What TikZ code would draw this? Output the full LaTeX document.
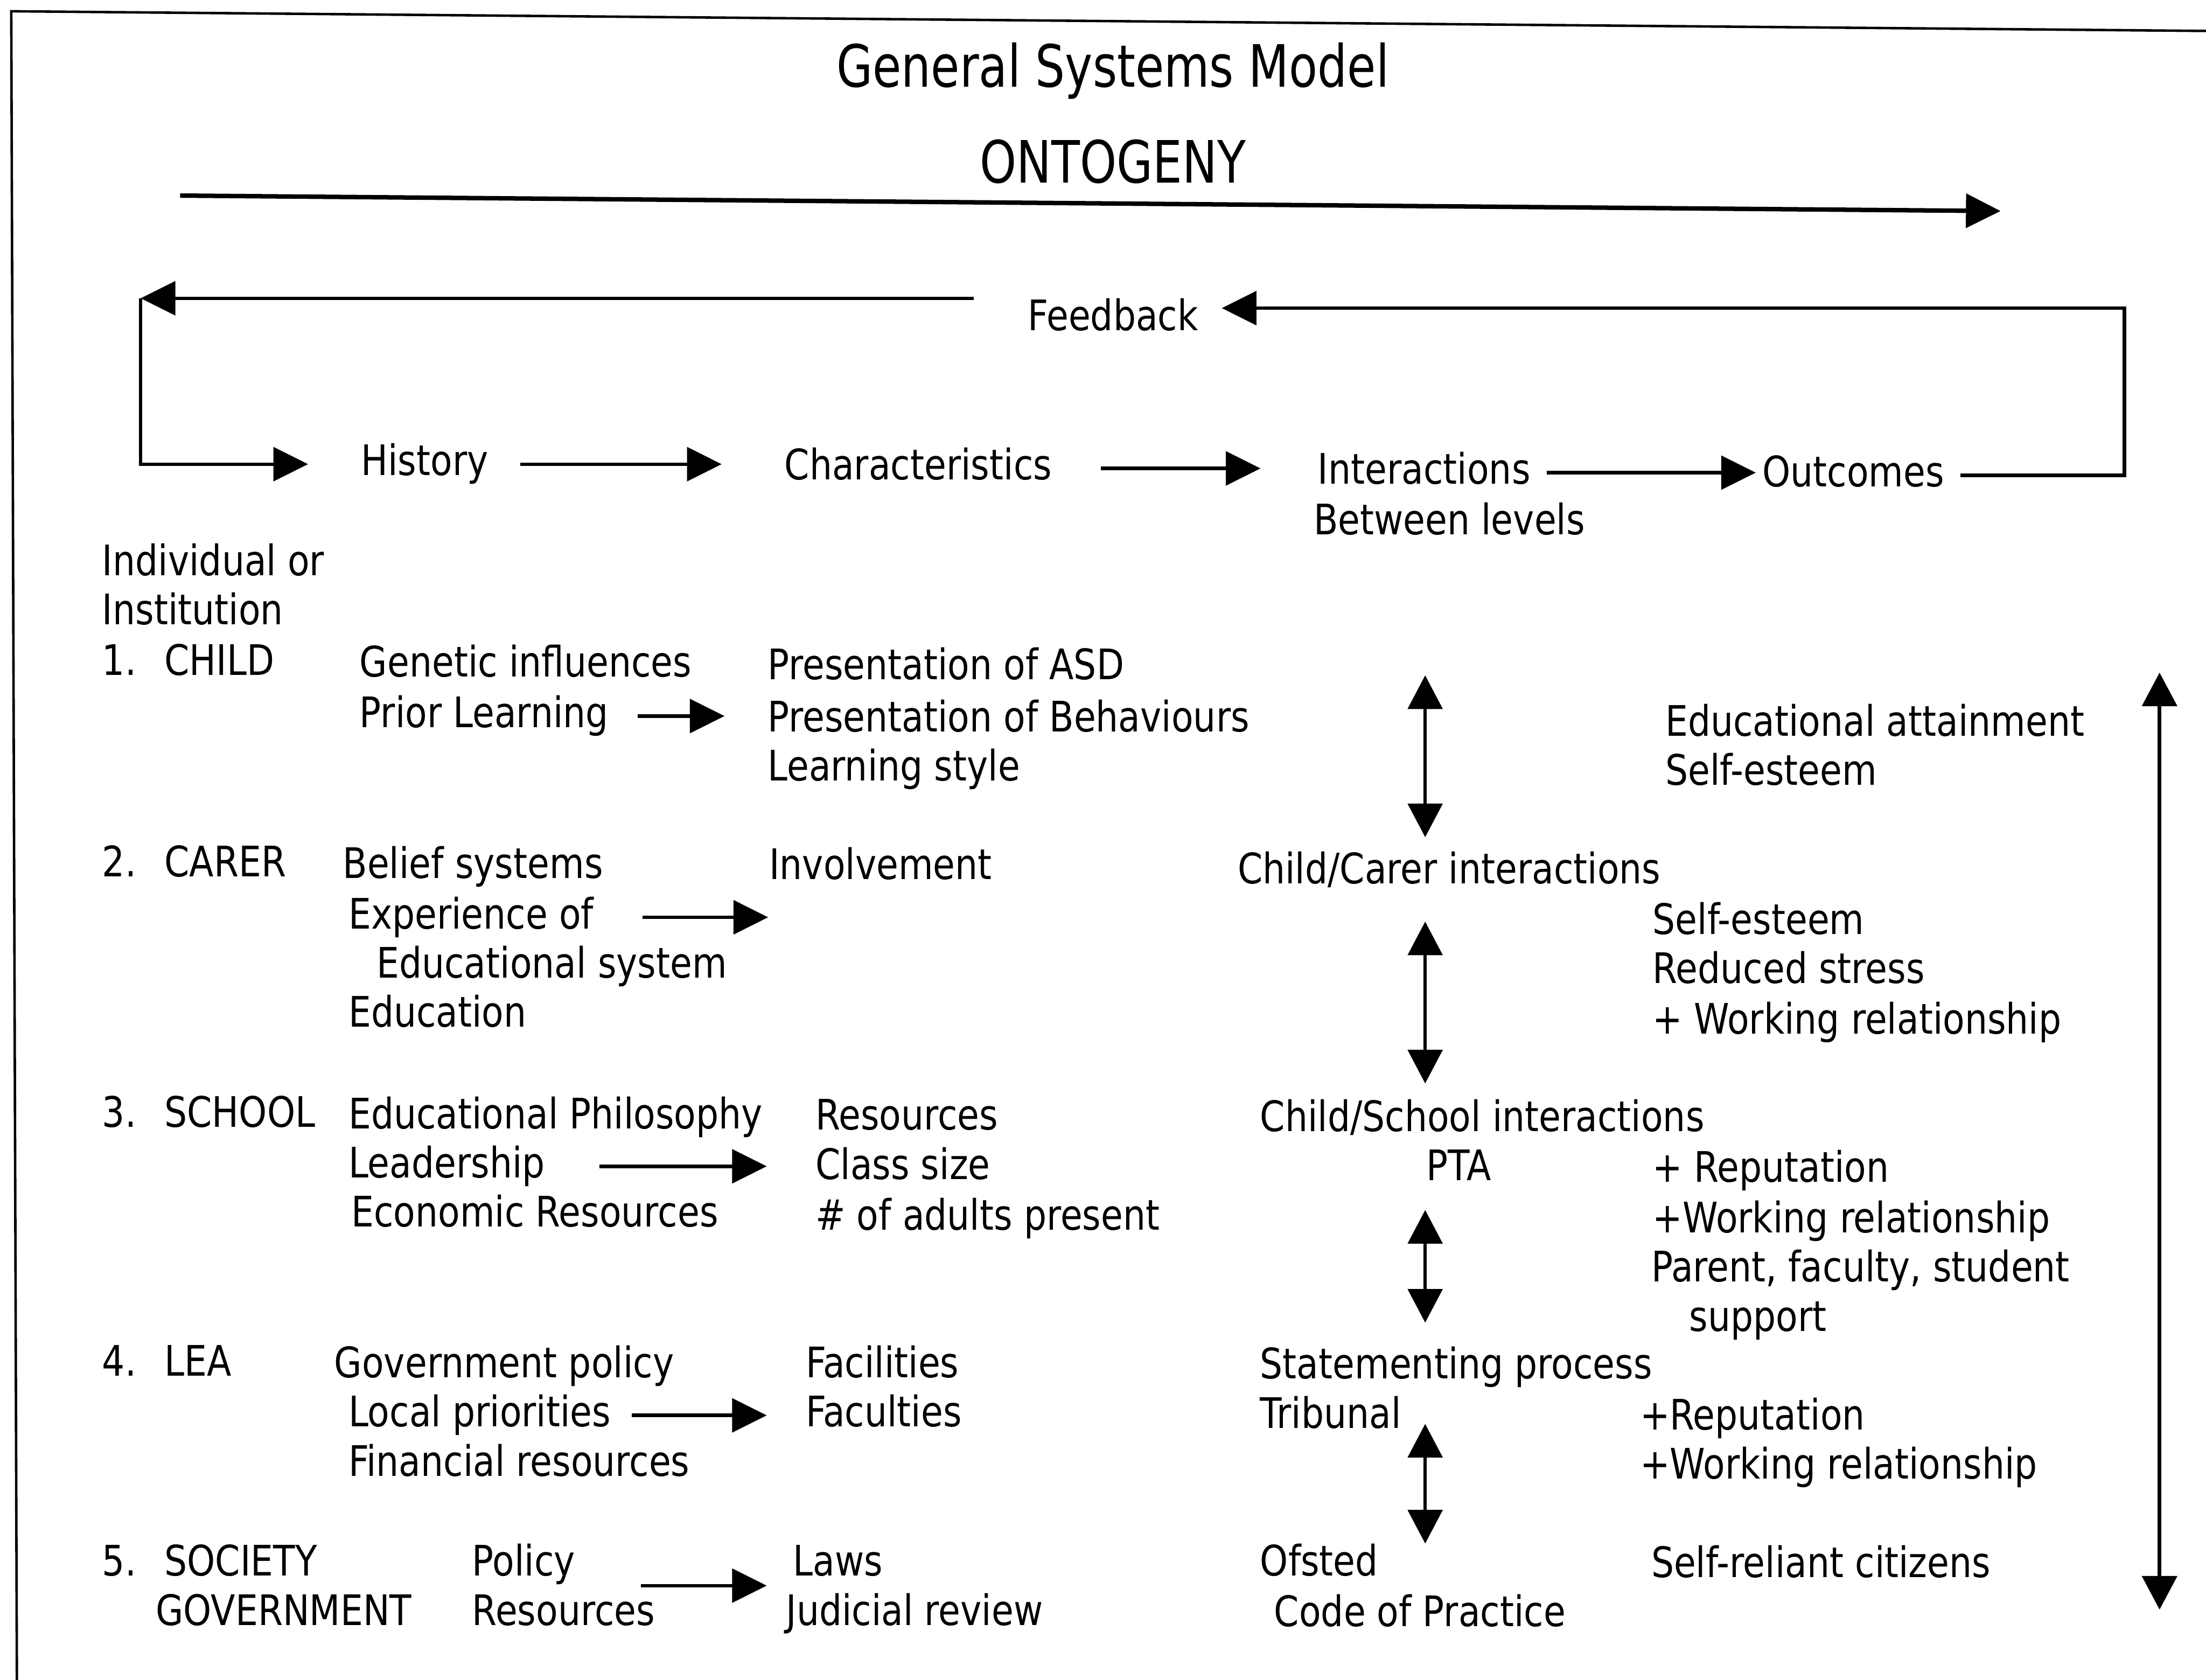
\documentclass[tikz,border=0pt]{standalone}
\usepackage{fontspec}
\setmainfont{DejaVu Sans}[FakeStretch=0.85]
\newfontfamily\titlefont{DejaVu Sans}[FakeStretch=0.8]
\usetikzlibrary{positioning, arrows.meta}

\begin{document}
\begin{tikzpicture}[x=0.01cm, y=-0.01cm]
    % Styles
    \tikzset{
        lbl/.style={
            anchor=base west,
            inner sep=0pt,
            text height=6.2pt,
            text depth=1.6pt,
            font=\fontsize{8.5}{10}\selectfont
        },
        ttl/.style={
            anchor=base,
            inner sep=0pt,
            font=\titlefont\fontsize{11.8}{14}\selectfont
        },
        arr/.style={-{Triangle[length=7pt, width=6.8pt]}, line width=0.7pt},
        dbl/.style={{Triangle[length=6.8pt, width=7pt]}-{Triangle[length=6.8pt, width=7pt]}, line width=0.6pt}
    }
    \useasboundingbox (0,0) rectangle (1568,1194);

    % --- Page frame ---
    \draw[line width=0.5pt] (12,1194) -- (8,8) -- (1568,22);

    % --- Title and ontogeny ---
    \node[ttl] (title) at (791,62) {General Systems Model};
    \node[ttl] (onto) at (791,130) {ONTOGENY};
    \coordinate (ontoL) at (128,139);
    \coordinate (ontoR) at (1422,150);
    \draw[arr, line width=0.9pt] (ontoL) -- (ontoR);

    % --- Stages and feedback loop ---
    \node[lbl] (feedback) at (730,235) {Feedback};
    \node[lbl] (history) at (256,338) {History};
    \node[lbl] (charact) at (557,341) {Characteristics};
    \node[lbl] (interact) at (936,344) {Interactions};
    \node[lbl] (between) at (933,380) {Between levels};
    \node[lbl] (outcomes) at (1252,346) {Outcomes};

    \draw[arr, shorten <=0.22cm, shorten >=0.44cm] (history.east) -- (history.east -| charact.west);
    \draw[arr, shorten <=0.34cm, shorten >=0.40cm] (charact.east) -- (charact.east -| interact.west);
    \draw[arr, shorten <=0.11cm, shorten >=0.04cm] (interact.east) -- (interact.east -| outcomes.west);

    \coordinate (fbL) at (100,212);
    \coordinate (fbR) at (1510,219);
    \draw[arr, shorten <=0.38cm] (feedback.west |- fbL) -- (fbL);
    \draw[arr, shorten >=0.37cm] (fbL) |- (history.west);
    \draw[arr, shorten <=0.11cm, shorten >=0.16cm] (outcomes.east) -| (fbR) -- (feedback.east |- fbR);

    % --- Levels ---
    \node[lbl] (indiv) at (72,409) {Individual or};
    \node[lbl] (instit) at (72,444) {Institution};

    % 1. child
    \node[lbl] (child) at (72,480) {1.\hspace{2mm}CHILD};
    \node[lbl] (genetic) at (255,481) {Genetic influences};
    \node[lbl] (prior) at (255,517) {Prior Learning};
    \node[lbl] (asd) at (545,483) {Presentation of ASD};
    \node[lbl] (behav) at (545,520) {Presentation of Behaviours};
    \node[lbl] (learn) at (545,555) {Learning style};
    \node[lbl] (attain) at (1183,523) {Educational attainment};
    \node[lbl] (esteemA) at (1183,558) {Self-esteem};
    \draw[arr, shorten <=0.20cm, shorten >=0.30cm] (prior.east) -- (prior.east -| behav.west);

    % 2. carer
    \node[lbl] (carer) at (72,623) {2.\hspace{2mm}CARER};
    \node[lbl] (belief) at (243,624) {Belief systems};
    \node[lbl] (exper) at (247,660) {Experience of};
    \node[lbl] (edsys) at (267,695) {Educational system};
    \node[lbl] (educ) at (247,730) {Education};
    \node[lbl] (invol) at (546,625) {Involvement};
    \node[lbl] (ccint) at (879,628) {Child/Carer interactions};
    \node[lbl] (esteemB) at (1174,664) {Self-esteem};
    \node[lbl] (stress) at (1174,699) {Reduced stress};
    \node[lbl] (workA) at (1174,735) {+ Working relationship};
    \draw[arr, shorten <=0.34cm] (exper.east) -- (exper.east -| invol.west);

    % 3. school
    \node[lbl] (school) at (72,801) {3.\hspace{2mm}SCHOOL};
    \node[lbl] (philo) at (247,802) {Educational Philosophy};
    \node[lbl] (lead) at (247,837) {Leadership};
    \node[lbl] (econ) at (249,872) {Economic Resources};
    \node[lbl] (resC) at (579,803) {Resources};
    \node[lbl] (size) at (579,838) {Class size};
    \node[lbl] (adults) at (579,874) {\# of adults present};
    \node[lbl] (csint) at (895,804) {Child/School interactions};
    \node[lbl] (pta) at (1013,839) {PTA};
    \node[lbl] (reputA) at (1174,840) {+ Reputation};
    \node[lbl] (workB) at (1174,876) {+Working relationship};
    \node[lbl] (parent) at (1173,911) {Parent, faculty, student};
    \node[lbl] (support) at (1200,946) {support};
    \draw[arr, shorten <=0.38cm, shorten >=0.34cm] (lead.east) -- (lead.east -| size.west);

    % 4. LEA
    \node[lbl] (lea) at (72,978) {4.\hspace{2mm}LEA};
    \node[lbl] (govpol) at (237,979) {Government policy};
    \node[lbl] (local) at (247,1014) {Local priorities};
    \node[lbl] (finan) at (247,1049) {Financial resources};
    \node[lbl] (facil) at (572,979) {Facilities};
    \node[lbl] (facul) at (572,1014) {Faculties};
    \node[lbl] (statem) at (895,980) {Statementing process};
    \node[lbl] (tribun) at (895,1015) {Tribunal};
    \node[lbl] (reputB) at (1165,1016) {+Reputation};
    \node[lbl] (workC) at (1165,1051) {+Working relationship};
    \draw[arr, shorten <=0.14cm, shorten >=0.27cm] (local.east) -- (local.east -| facul.west);

    % 5. society
    \node[lbl] (society) at (72,1120) {5.\hspace{2mm}SOCIETY};
    \node[lbl] (govt) at (110,1155) {GOVERNMENT};
    \node[lbl] (policy) at (335,1120) {Policy};
    \node[lbl] (resE) at (335,1155) {Resources};
    \node[lbl] (laws) at (563,1120) {Laws};
    \node[lbl] (judic) at (558,1155) {Judicial review};
    \node[lbl] (ofsted) at (895,1120) {Ofsted};
    \node[lbl] (code) at (905,1156) {Code of Practice};
    \node[lbl] (citiz) at (1173,1121) {Self-reliant citizens};
    \draw[arr, shorten <=0.46cm, shorten >=0.18cm] ([yshift=-0.15cm]policy.east) -- ([yshift=-0.15cm]policy.east -| laws.west);

    % --- Interactions between levels ---
    \foreach \ya/\yb [count=\i] in {480/595, 655/770, 860/940, 1012/1097} {
        \coordinate (up\i) at (1013,\ya);
        \coordinate (dn\i) at (1013,\yb);
        \draw[dbl] (up\i) -- (dn\i);
    }
    \coordinate (bigT) at (1535,478);
    \coordinate (bigB) at (1535,1144);
    \draw[dbl, line width=0.8pt] (bigT) -- (bigB);

\end{tikzpicture}
\end{document}
